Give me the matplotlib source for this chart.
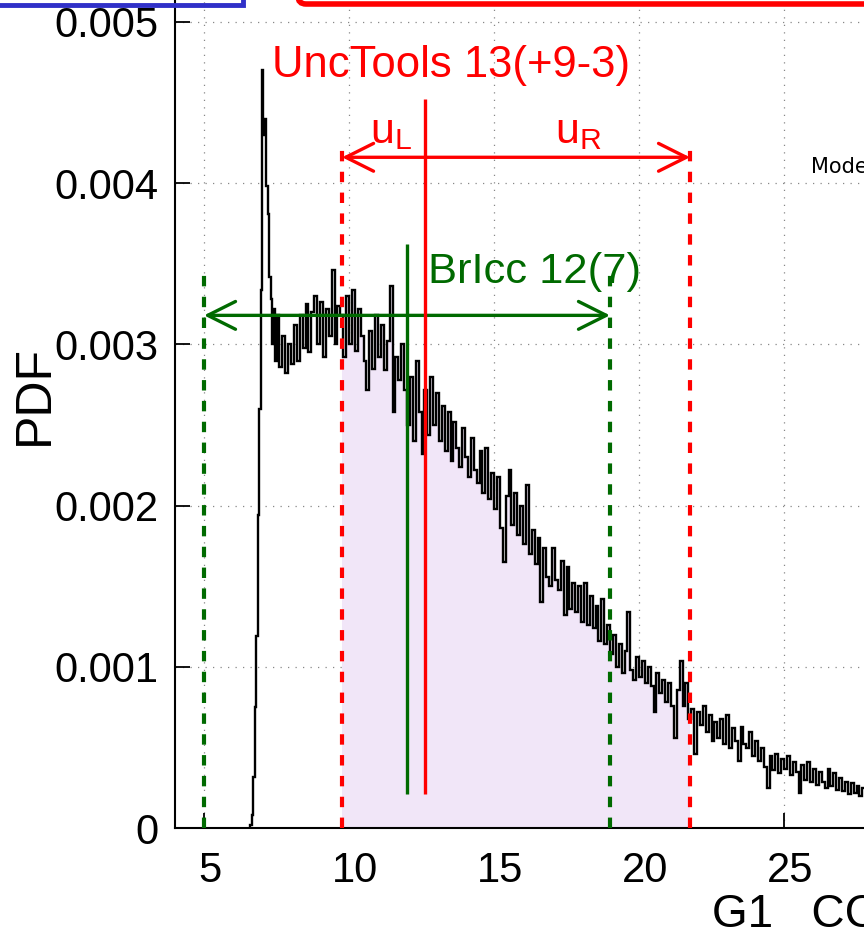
import numpy as np
import matplotlib
matplotlib.use("Agg")
import matplotlib.pyplot as plt
import matplotlib.transforms as mtransforms
from matplotlib.patches import Rectangle, FancyBboxPatch

plt.rcParams['font.family'] = ['Liberation Sans', 'DejaVu Sans']

# PDF histogram, values in units of 1e-5
peak_start = 6.6   # fine bins (0.05) across the sharp peak
peak_vals = [2, 8, 32, 75, 119, 194, 260, 334, 470, 430, 440, 398, 381, 342, 328, 300, 322, 290]
tail_start = 7.5   # 0.1 bins afterwards
tail_vals = (
    [318, 286, 305, 282, 300, 288, 312, 290, 318, 298, 325, 295, 320, 330, 300, 326, 292, 322, 305, 346, 300, 324]
    + [318, 292, 330, 300, 334, 296, 322, 305, 290, 272, 308, 285, 318, 292, 312, 284, 302, 336, 258, 292, 278, 300, 272]
    + [250, 280, 240, 290, 258, 232, 272, 244, 280, 250]
    + [270, 240, 262, 234, 258, 228, 252, 236, 224, 248]
    + [230, 218, 242, 222, 214, 234, 208, 236, 204, 220]
    + [198, 218, 186, 165, 206, 222, 188, 208, 182, 200]
    + [176, 213, 170, 185, 164, 180, 140, 174, 156, 150]
    + [174, 154, 148, 166, 132, 162, 136, 152, 134, 150]
    + [128, 152, 126, 144, 124, 138, 116, 142, 114, 126]
    + [108, 120, 100, 114, 96, 110, 134, 98, 92, 106]
    + [94, 104, 90, 100, 88, 72, 96, 84, 92, 78]
    + [90, 76, 56, 86, 104, 76, 90, 68, 74, 46]
    + [72, 64, 76, 60, 70, 54, 66, 56, 68, 52]
    + [70, 50, 62, 54, 42, 63, 52, 50, 60, 45]
    + [54, 42, 50, 38, 25, 45, 36, 46, 34, 43]
    + [37, 45, 33, 41, 35, 22, 39, 30, 41, 29]
    + [37, 27, 35, 29, 25, 37, 26, 34, 24, 31]
    + [23, 29, 21, 28, 22, 26, 20, 25, 19, 24]
    + [18, 23, 17, 22, 16, 21, 18, 15, 20, 16, 19, 15, 18, 14, 19, 15, 14, 18, 13, 16]
)

# UncTools result: central value and interval
unc_center = 12.62
unc_low, unc_high = 9.76, 21.76
unc_top = 0.00452
unc_arrow_y = 0.00416
# BrIcc result
bricc_center = 12.0
bricc_low, bricc_high = 5.0, 19.0
bricc_top = 0.00362
bricc_arrow_y = 0.00318
line_bottom = 0.00021

xticks = [5, 10, 15, 20, 25]
yticks = [0, 0.001, 0.002, 0.003, 0.004, 0.005]
ytick_labels = ['0', '0.001', '0.002', '0.003', '0.004', '0.005']

red = '#ff0000'
green = '#006a00'
fill_col = '#f1e6f8'

W, H = 864, 944
fig = plt.figure(figsize=(W / 100, H / 100), dpi=100)

# axes placed so that the frame runs off the top/right like the crop
x0, x1 = 4.0, 30.0
y0, y1 = 0.0, 0.0053
px_per_x = 29.0
px_per_y = 161300.0
left_px, bottom_px = 175, 944 - 828.3
ax = fig.add_axes([left_px / W, bottom_px / H,
                   (x1 - x0) * px_per_x / W, (y1 - y0) * px_per_y / H])
ax.set_xlim(x0, x1)
ax.set_ylim(y0, y1)

peak_edges = peak_start + 0.05 * np.arange(len(peak_vals) + 1)
tail_edges = tail_start + 0.1 * np.arange(len(tail_vals) + 1)
edges = np.concatenate([peak_edges[:-1], tail_edges])
vals = np.array(peak_vals + tail_vals) * 1e-5

# shaded interval under the pdf
shade = ax.stairs(vals, edges, fill=True, color=fill_col, zorder=1)
shade.set_clip_path(Rectangle((unc_low, 0), unc_high - unc_low, 1, transform=ax.transData))
ax.stairs(vals, edges, color='black', lw=1.7, zorder=3)

# grid
ax.set_xticks(xticks)
ax.set_yticks(yticks)
ax.set_yticklabels(ytick_labels)
ax.grid(True, color='#888888', linestyle=(0, (1, 5)), lw=0.9, zorder=0)
ax.set_axisbelow(True)

ax.tick_params(direction='in', length=11, width=1.3, labelsize=30, pad=12)
ax.tick_params(axis='x', pad=16)
shift = mtransforms.ScaledTranslation(0.06, 0, fig.dpi_scale_trans)
for lab in ax.get_xticklabels():
    lab.set_transform(lab.get_transform() + shift)
for s in ax.spines.values():
    s.set_linewidth(1.5)

# UncTools lines
ax.vlines(unc_center, line_bottom, unc_top, color=red, lw=2.4, zorder=5)
ax.vlines([unc_low, unc_high], 0, 0.00422, color=red, lw=3, linestyles=(0, (2.5, 2.5)), zorder=5)
ax.annotate('', xy=(unc_low, unc_arrow_y), xytext=(unc_high, unc_arrow_y),
            arrowprops=dict(arrowstyle='<->,head_length=1.0,head_width=0.5', color=red,
                            lw=2.4, mutation_scale=20, shrinkA=0, shrinkB=0), zorder=5)
# BrIcc lines
ax.vlines(bricc_center, line_bottom, bricc_top, color=green, lw=2.4, zorder=4)
ax.vlines([bricc_low, bricc_high], 0, 0.00346, color=green, lw=3, linestyles=(0, (2.5, 2.5)), zorder=4)
ax.annotate('', xy=(bricc_low, bricc_arrow_y), xytext=(bricc_high, bricc_arrow_y),
            arrowprops=dict(arrowstyle='<->,head_length=1.0,head_width=0.5', color=green,
                            lw=2.4, mutation_scale=20, shrinkA=0, shrinkB=0), zorder=4)

ax.text(7.34, 0.00473, 'UncTools 13(+9-3)', color=red, fontsize=31.4, va='center', ha='left')
ax.text(10.72, 0.00425, r'u$_\mathregular{L}$', color=red, fontsize=31, va='baseline', ha='left')
ax.text(17.1, 0.00425, r'u$_\mathregular{R}$', color=red, fontsize=31, va='baseline', ha='left')
ax.text(12.72, 0.00345, 'BrIcc 12(7)', color=green, fontsize=31.3, va='center', ha='left')
ax.text(25.93, 0.0041, 'Model', color='black', fontsize=15, va='center', ha='left',
        family='DejaVu Sans')

fig.text(35 / W, 1 - 395 / H, 'PDF', rotation=90, fontsize=36, va='center', ha='center')
fig.text(712 / W, 1 - 915 / H, 'G1   CC', fontsize=33, va='center', ha='left')

# cropped legend boxes at the top
fig.patches.append(Rectangle((-20, 939), 263, 40, transform=None, fill=False,
                             edgecolor='#3030c8', lw=3.5, figure=fig))
fig.patches.append(FancyBboxPatch((298, 940), 700, 40, boxstyle='round,pad=0,rounding_size=8',
                                  transform=None, facecolor='white', edgecolor=red, lw=4, figure=fig))

fig.savefig('out.png', dpi=100)
